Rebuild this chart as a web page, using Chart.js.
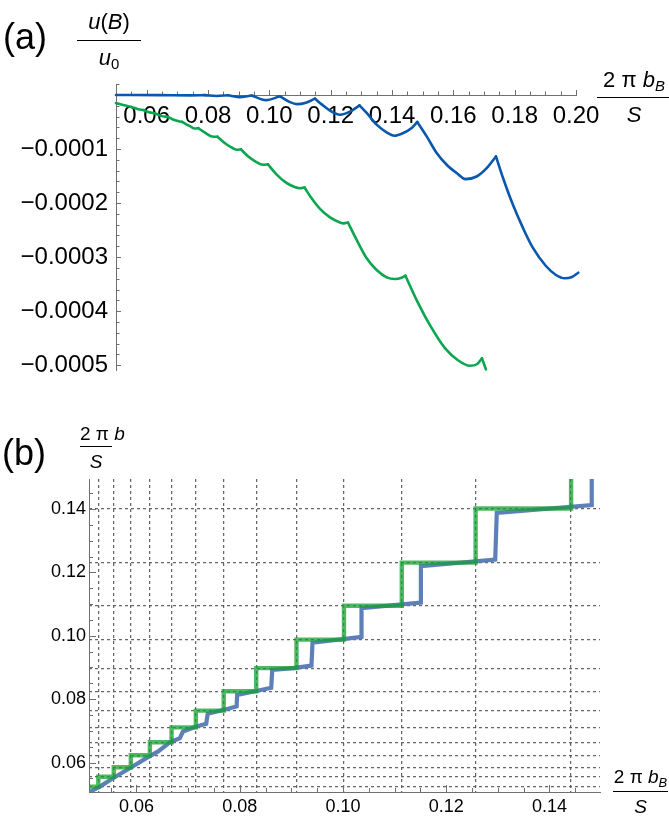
<!DOCTYPE html>
<html>
<head>
<meta charset="utf-8">
<script src="https://cdn.jsdelivr.net/npm/chart.js@4.4.1/dist/chart.umd.min.js"></script>
<style>
  html, body { margin: 0; padding: 0; background: #fff; }
  body { width: 669px; height: 818px; position: relative; overflow: hidden;
         font-family: "Liberation Sans", Arial, sans-serif; color: #000; }
  canvas { position: absolute; left: 0; }
  #chartA { top: 0; }
  #chartB { top: 410px; }
  .tag { position: absolute; white-space: nowrap; font-weight: 300; }
  .frac { position: absolute; text-align: center; white-space: nowrap; }
  .frac .num { display: block; }
  .frac .bar { display: block; height: 0; border-top: 1.6px solid #000; }
  .frac .den { display: block; }
  .frac i { font-style: italic; }
  .frac sub { font-size: 68%; vertical-align: -0.28em; line-height: 0; }
</style>
</head>
<body>
<canvas id="chartA" width="669" height="400"></canvas>
<canvas id="chartB" width="669" height="408"></canvas>

<div class="tag" style="left:3px; top:16px; font-size:36px; line-height:42px;">(a)</div>
<div class="frac" style="left:77px; top:8px; width:64px; font-size:22px;">
  <span class="num" style="line-height:27px; padding-bottom:5px;"><i>u</i>(<i>B</i>)</span>
  <span class="bar"></span>
  <span class="den" style="line-height:26px; padding-top:4px;"><i>u</i><sub>0</sub></span>
</div>
<div class="frac" style="left:597px; top:67px; width:74px; font-size:22px;">
  <span class="num" style="line-height:26px; padding-bottom:4px;">2 π <i>b</i><sub><i>B</i></sub></span>
  <span class="bar"></span>
  <span class="den" style="line-height:26px; padding-top:4px;"><i>S</i></span>
</div>

<div class="tag" style="left:2px; top:432px; font-size:36px; line-height:42px;">(b)</div>
<div class="frac" style="left:80px; top:424px; width:32px; font-size:19px;">
  <span class="num" style="line-height:20px; padding-bottom:2px;">2 π <i>b</i></span>
  <span class="bar"></span>
  <span class="den" style="line-height:20px; padding-top:5px;"><i>S</i></span>
</div>
<div class="frac" style="left:613px; top:766px; width:55px; font-size:19px;">
  <span class="num" style="line-height:22px; padding-bottom:3px;">2 π <i>b</i><sub><i>B</i></sub></span>
  <span class="bar"></span>
  <span class="den" style="line-height:22px; padding-top:4px;"><i>S</i></span>
</div>

<script>
// ---------- panel (a): energy curves u(B)/u0 ----------
const aBlueX = [0.05000, 0.06435, 0.07413, 0.07902, 0.08277, 0.08652, 0.09010, 0.09425, 0.09891, 0.10347,
  0.10673, 0.10902, 0.11195, 0.11488, 0.11717, 0.11978, 0.12304, 0.12630, 0.12939, 0.13174,
  0.13500, 0.13826, 0.14074, 0.14368, 0.14641, 0.14824, 0.15131, 0.15457, 0.15783, 0.16109,
  0.16402, 0.16761, 0.17087, 0.17390, 0.17618, 0.17944, 0.18270, 0.18596, 0.19020, 0.19346,
  0.19640, 0.19868, 0.20074];
const aBlueY = [0, -0.0000002, -0.0000007, -0.0000002, -0.0000017, -0.0000004, -0.0000039, -0.0000009, -0.0000095, -0.0000024,
  -0.0000132, -0.0000169, -0.0000141, -0.0000067, -0.0000178, -0.0000289, -0.0000364, -0.0000308, -0.0000191, -0.0000332,
  -0.0000549, -0.0000692, -0.0000753, -0.0000703, -0.0000610, -0.0000499, -0.0000766, -0.0001074, -0.0001291, -0.0001445,
  -0.0001557, -0.0001508, -0.0001353, -0.0001137, -0.0001532, -0.0002033, -0.0002460, -0.0002831, -0.0003165, -0.0003332,
  -0.0003393, -0.0003369, -0.0003289];
// x positions of the sharp cusps on the blue curve
const aBlueCusps = [0.07902, 0.08652, 0.09425, 0.10347, 0.11488, 0.12939, 0.14824, 0.17390];

const aGreenX = [0.05000, 0.05261, 0.05554, 0.05717, 0.05897, 0.06076, 0.06272, 0.06467, 0.06695, 0.06924,
  0.07152, 0.07413, 0.07576, 0.07690, 0.07902, 0.08130, 0.08309, 0.08554, 0.08815, 0.08945,
  0.09076, 0.09304, 0.09565, 0.09793, 0.09956, 0.10217, 0.10510, 0.10804, 0.11000, 0.11146,
  0.11391, 0.11652, 0.11978, 0.12304, 0.12434, 0.12564, 0.12848, 0.13174, 0.13500, 0.13826,
  0.14097, 0.14315, 0.14439, 0.14804, 0.15238, 0.15727, 0.16151, 0.16542, 0.16770, 0.16933,
  0.17064];
const aGreenY = [-0.0000150, -0.0000189, -0.0000230, -0.0000262, -0.0000278, -0.0000319, -0.0000338, -0.0000386, -0.0000406, -0.0000468,
  -0.0000497, -0.0000577, -0.0000620, -0.0000614, -0.0000698, -0.0000768, -0.0000772, -0.0000892, -0.0000985, -0.0001013,
  -0.0001006, -0.0001134, -0.0001236, -0.0001291, -0.0001284, -0.0001458, -0.0001607, -0.0001699, -0.0001727, -0.0001711,
  -0.0001922, -0.0002108, -0.0002265, -0.0002358, -0.0002375, -0.0002360, -0.0002683, -0.0003022, -0.0003239, -0.0003375,
  -0.0003406, -0.0003382, -0.0003345, -0.0003796, -0.0004260, -0.0004686, -0.0004909, -0.0005011, -0.0004983, -0.0004872,
  -0.0005080];
// x positions of the sharp cusps on the green curve
const aGreenCusps = [0.05897, 0.06272, 0.06695, 0.07152, 0.07690, 0.08309, 0.09076, 0.09956, 0.11146, 0.12564, 0.14439, 0.16933];

const aXTicks = [0.06, 0.08, 0.10, 0.12, 0.14, 0.16, 0.18, 0.20];
const aYTicks = [-0.0001, -0.0002, -0.0003, -0.0004, -0.0005];
const aXRange = [0.05, 0.20];
const aYRange = [-0.000509, 0.0000204];

// ---------- panel (b): flux staircases ----------
const bGreenX = [0.0508, 0.0526, 0.0556, 0.0589, 0.0626, 0.0668, 0.0715, 0.0769, 0.0832, 0.0910,
  0.1002, 0.1114, 0.1257, 0.1442];
const bGreenY = [0.0524, 0.0555, 0.0585, 0.0623, 0.0664, 0.0711, 0.0764, 0.0825, 0.0898, 0.0988,
  0.1095, 0.1231, 0.1402, 0.1600];

const bBlueX = [0.0508, 0.0529, 0.0555, 0.0587, 0.0619, 0.0642, 0.0664, 0.0684, 0.0690, 0.0716,
  0.0735, 0.0738, 0.0768, 0.0794, 0.0795, 0.0832, 0.0861, 0.0863, 0.0903, 0.0939,
  0.0941, 0.1036, 0.1036, 0.1151, 0.1151, 0.1295, 0.1298, 0.1482, 0.1482];
const bBlueY = [0.0506, 0.0524, 0.0551, 0.0582, 0.0614, 0.0635, 0.0663, 0.0677, 0.0698, 0.0714,
  0.0722, 0.0754, 0.0766, 0.0777, 0.0813, 0.0826, 0.0836, 0.0892, 0.0898, 0.0906,
  0.0978, 0.0997, 0.1087, 0.1105, 0.1220, 0.1241, 0.1388, 0.1413, 0.1520];

const bGridX = [0.0526, 0.0556, 0.0589, 0.0626, 0.0668, 0.0715, 0.0769, 0.0832, 0.0910, 0.1002,
  0.1114, 0.1257, 0.1442];
const bGridY = [0.0524, 0.0555, 0.0585, 0.0623, 0.0664, 0.0711, 0.0764, 0.0825, 0.0898, 0.0988,
  0.1095, 0.1231, 0.1402];

const bXTicks = [0.06, 0.08, 0.10, 0.12, 0.14];
const bYTicks = [0.06, 0.08, 0.10, 0.12, 0.14];
const bXRange = [0.0508, 0.1498];
const bYRange = [0.0507, 0.1495];

// ---------- shared helpers ----------
const AXIS = '#6f6f6f';
Chart.defaults.font.family = '"Liberation Sans", Arial, sans-serif';
Chart.defaults.color = '#000';

const pts = (xs, ys) => xs.map((x, i) => ({ x, y: ys[i] }));

// cut a curve into smooth arcs that meet at the listed cusps
function arcs(xs, ys, cusps) {
  const out = [[]];
  xs.forEach((x, i) => {
    const p = { x, y: ys[i] };
    out[out.length - 1].push(p);
    if (cusps.some(c => Math.abs(c - x) < 1e-9) && i < xs.length - 1) out.push([p]);
  });
  return out;
}

function steps(from, to, step) {
  const out = [];
  const n = Math.round((to - from) / step);
  for (let i = 0; i <= n; i++) out.push(from + i * step);
  return out;
}
const isMultiple = (v, m) => Math.abs(v / m - Math.round(v / m)) < 1e-6;

// small tick marks drawn inward from the axis lines
const innerTicks = {
  id: 'innerTicks',
  beforeDatasetsDraw(chart, args, o) {
    const { ctx, chartArea } = chart;
    const xs = chart.scales.x, ys = chart.scales.y;
    const yAxisPix = o.xAxisAtY !== undefined ? ys.getPixelForValue(o.xAxisAtY) : chartArea.bottom;
    const xAxisPix = chartArea.left;
    ctx.save();
    ctx.strokeStyle = AXIS;
    ctx.lineWidth = 1;
    ctx.beginPath();
    o.xMinor.forEach(v => {
      const p = Math.round(xs.getPixelForValue(v)) + 0.5;
      const len = isMultiple(v, o.xMajor) ? o.major : o.minor;
      ctx.moveTo(p, yAxisPix);
      ctx.lineTo(p, yAxisPix - len);
    });
    o.yMinor.forEach(v => {
      const p = Math.round(ys.getPixelForValue(v)) + 0.5;
      const len = isMultiple(v, o.yMajor) ? o.major : o.minor;
      ctx.moveTo(xAxisPix, p);
      ctx.lineTo(xAxisPix + len, p);
    });
    ctx.stroke();
    ctx.restore();
  }
};

const fixedTicks = list => scale => { scale.ticks = list.map(v => ({ value: v })); };
const zeroPad = s => { s.paddingLeft = s.paddingRight = s.paddingTop = s.paddingBottom = 0; };

const arcStyle = color => ({
  borderColor: color, borderWidth: 2.6, pointRadius: 0, fill: false, clip: 6,
  cubicInterpolationMode: 'monotone', borderCapStyle: 'round', borderJoinStyle: 'round'
});

// ---------- chart (a) ----------
const aSets = [
  ...arcs(aGreenX, aGreenY, aGreenCusps).map(d => ({ data: d, ...arcStyle('#0aa650') })),
  ...arcs(aBlueX, aBlueY, aBlueCusps).map(d => ({ data: d, ...arcStyle('#0a58ad') }))
];

new Chart(document.getElementById('chartA'), {
  type: 'line',
  data: { datasets: aSets },
  options: {
    responsive: false, animation: false, devicePixelRatio: 1,
    layout: { padding: { left: 0, top: 84, right: 93, bottom: 30 } },
    plugins: {
      legend: { display: false }, tooltip: { enabled: false },
      innerTicks: {
        xAxisAtY: 0,
        xMinor: steps(0.05, 0.20, 0.005), xMajor: 0.02,
        yMinor: steps(-0.0005, 0.00002, 0.00002), yMajor: 0.0001,
        major: 5, minor: 3.5
      }
    },
    scales: {
      x: {
        type: 'linear', min: aXRange[0], max: aXRange[1], position: { y: 0 },
        grid: { display: false, drawTicks: false },
        border: { display: true, color: AXIS, width: 1 },
        afterBuildTicks: fixedTicks(aXTicks),
        afterFit(s) { s.height = 0; zeroPad(s); },
        ticks: { autoSkip: false, maxRotation: 0, padding: 7, font: { size: 24 },
                 callback: v => v.toFixed(2) }
      },
      y: {
        type: 'linear', min: aYRange[0], max: aYRange[1],
        grid: { display: false, drawTicks: false },
        border: { display: true, color: AXIS, width: 1 },
        afterBuildTicks: fixedTicks(aYTicks),
        afterFit(s) { s.width = 116; zeroPad(s); },
        ticks: { autoSkip: false, padding: 8, font: { size: 24 },
                 callback: v => '\u2212' + Math.abs(v).toFixed(4) }
      }
    }
  },
  plugins: [innerTicks]
});

// ---------- chart (b) ----------
const gridLine = { color: 'rgba(85,85,85,0.9)', lineWidth: 1.25, drawTicks: false, drawOnChartArea: true };
new Chart(document.getElementById('chartB'), {
  type: 'line',
  data: {
    datasets: [
      { data: pts(bGreenX, bGreenY), borderColor: 'rgba(20,160,50,0.75)', borderWidth: 4.4,
        stepped: 'before', pointRadius: 0, fill: false, borderJoinStyle: 'miter' },
      { data: pts(bBlueX, bBlueY), borderColor: 'rgba(88,124,182,0.97)', borderWidth: 4.2,
        pointRadius: 0, tension: 0, fill: false, borderJoinStyle: 'miter' }
    ]
  },
  options: {
    responsive: false, animation: false, devicePixelRatio: 1,
    layout: { padding: { left: 0, top: 69, right: 69, bottom: 0 } },
    plugins: {
      legend: { display: false }, tooltip: { enabled: false },
      innerTicks: {
        xMinor: steps(0.055, 0.145, 0.005), xMajor: 0.02,
        yMinor: steps(0.055, 0.145, 0.005), yMajor: 0.02,
        major: 7, minor: 4
      }
    },
    scales: {
      x: {
        type: 'linear', min: bXRange[0], max: bXRange[1], position: 'bottom',
        grid: { display: false, drawTicks: false },
        border: { display: true, color: AXIS, width: 1 },
        afterBuildTicks: fixedTicks(bXTicks),
        afterFit(s) { s.height = 26; zeroPad(s); },
        ticks: { autoSkip: false, maxRotation: 0, padding: 4, font: { size: 18 },
                 callback: v => v.toFixed(2) }
      },
      y: {
        type: 'linear', min: bYRange[0], max: bYRange[1], position: 'left',
        grid: { display: false, drawTicks: false },
        border: { display: true, color: AXIS, width: 1 },
        afterBuildTicks: fixedTicks(bYTicks),
        afterFit(s) { s.width = 89; zeroPad(s); },
        ticks: { autoSkip: false, padding: 3, font: { size: 18 },
                 callback: v => v.toFixed(2) }
      },
      xg: {
        type: 'linear', min: bXRange[0], max: bXRange[1], position: 'top',
        grid: gridLine, border: { display: false, dash: [3, 3] },
        afterBuildTicks: fixedTicks(bGridX),
        afterFit(s) { s.height = 0; zeroPad(s); },
        ticks: { display: false }
      },
      yg: {
        type: 'linear', min: bYRange[0], max: bYRange[1], position: 'right',
        grid: gridLine, border: { display: false, dash: [3, 3] },
        afterBuildTicks: fixedTicks(bGridY),
        afterFit(s) { s.width = 0; zeroPad(s); },
        ticks: { display: false }
      }
    }
  },
  plugins: [innerTicks]
});
</script>
</body>
</html>
